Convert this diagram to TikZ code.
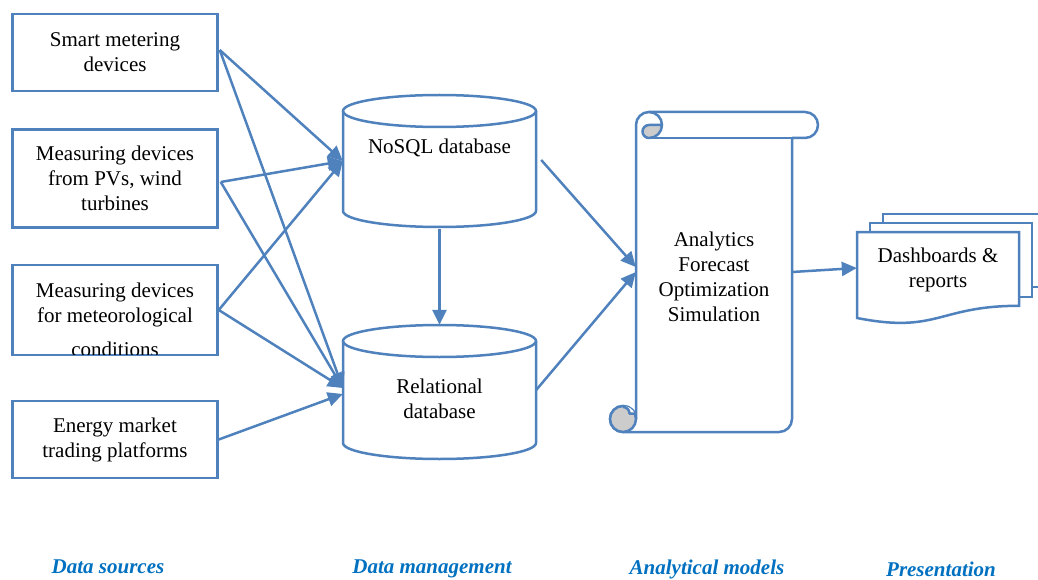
\documentclass[tikz,border=0pt]{standalone}
\usepackage{fontspec}
\setmainfont{Liberation Serif}
\usetikzlibrary{arrows.meta,calc}
\definecolor{bl}{HTML}{4F81BD}
\definecolor{lab}{RGB}{0,112,192}
\definecolor{curl}{RGB}{204,204,204}
\begin{document}
\begin{tikzpicture}[x=1pt,y=-1pt,
  ln/.style={draw=bl,line width=2.5pt},
  box/.style={ln,minimum width=205pt,inner sep=0pt,align=center,font=\fontsize{21}{25}\selectfont},
  txt/.style={align=center,inner sep=0pt,font=\fontsize{21}{25}\selectfont},
  arr/.style={draw=bl,line width=2.5pt,-{Triangle[length=15pt,width=14pt]}},
  lbl/.style={text=lab,font=\fontsize{21}{25}\selectfont\bfseries\itshape,inner sep=0pt},
  area/.style={inner sep=0pt}]
\useasboundingbox (0,0) rectangle (1038,580);

% data sources
\node[box,minimum height=77pt] (b1) at (115,52.5) {Smart metering\\devices};
\node[box,minimum height=98pt] (b2) at (115,178.5) {Measuring devices\\from PVs, wind\\turbines};
\node[box,minimum height=90pt] (b3) at (115,310) {};
\begin{scope}
  \clip ($(b3.south west)+(1.3,-1.3)$) rectangle ($(b3.north east)+(-1.3,1.3)$);
  \node[txt,anchor=north] (b3t) at (115,283) {Measuring devices\\for meteorological\\[8.5pt]conditions};
\end{scope}
\node[box,minimum height=77pt] (b4) at (115,439.5) {Energy market\\trading platforms};

% databases
\node[area,minimum width=193pt,minimum height=132pt] (nosql) at (439.5,161) {};
\draw[ln,fill=white] (343,111) -- (343,211) arc[start angle=180,end angle=0,x radius=96.5,y radius=16] -- (536,111);
\draw[ln] (439.5,111) ellipse[x radius=96.5,y radius=16];
\node[txt] (nosqlt) at (439.5,148) {NoSQL database};

\node[area,minimum width=193pt,minimum height=134pt] (rel) at (439.5,392) {};
\draw[ln,fill=white] (343,341) -- (343,443) arc[start angle=180,end angle=0,x radius=96.5,y radius=16] -- (536,341);
\draw[ln] (439.5,341) ellipse[x radius=96.5,y radius=16];
\node[txt] (relt) at (439.5,399) {Relational\\database};

% scroll
\node[area,minimum width=156pt,minimum height=320pt] (scroll) at (714,272) {};
\draw[ln,fill=white,line join=round] (636,125) arc[start angle=180,end angle=270,radius=13] -- (805,112)
  arc[start angle=270,end angle=450,radius=13] -- (792,138) -- (792,419)
  arc[start angle=0,end angle=90,radius=13] -- (623,432)
  arc[start angle=90,end angle=360,radius=13] -- cycle;
\draw[ln] (649,138) -- (792,138);
\draw[ln] (649,112) arc[start angle=270,end angle=360,radius=13];
\draw[ln,fill=curl,line join=round] (662,125) arc[start angle=0,end angle=90,radius=13]
  arc[start angle=90,end angle=270,radius=6.5] -- cycle;
\draw[ln,fill=curl] (623,419) circle[radius=13];
\fill[white] (623,406) arc[start angle=270,end angle=335,radius=13] -- (629.5,413.5)
  arc[start angle=0,end angle=-90,radius=6.5] -- cycle;
\draw[ln,line join=round] (636,413.5) -- (629.5,413.5) arc[start angle=0,end angle=-90,radius=6.5];
\node[txt] (scrollt) at (714,277) {Analytics\\Forecast\\Optimization\\Simulation};

% documents
\begin{scope}
  \clip (0,0) rectangle (1038,580);
  \draw[ln] (883,223) -- (883,214) -- (1050,214);
  \draw[ln] (1032,287) -- (1050,287);
\end{scope}
\draw[ln] (870,232) -- (870,223) -- (1032,223) -- (1032,297) -- (1019,297);
\node[area,minimum width=162pt,minimum height=86pt] (doc) at (938,275) {};
\draw[ln,fill=white] (857,232) -- (1019,232) -- (1019,305.8) .. controls (938,305.8) and (938,333.9) .. (857,318) -- cycle;
\node[txt] (doct) at (938,270) {Dashboards \&\\reports};

% connectors
\draw[arr] ($(b1.east)+(1,-2.5)$) -- (nosql.west);
\draw[arr] ($(b1.east)+(1,-2.5)$) -- ($(rel.west)+(0,-4)$);
\draw[arr] ($(b2.east)+(2,3.5)$) -- (nosql.west);
\draw[arr] ($(b2.east)+(2,3.5)$) -- ($(rel.west)+(0,-4)$);
\draw[arr] (b3.east) -- (nosql.west);
\draw[arr] (b3.east) -- ($(rel.west)+(0,-4)$);
\draw[arr] (b4.east) -- ($(rel.west)+(0,2)$);
\draw[arr] ($(nosql.south)+(0,2)$) -- (rel.north);
\draw[arr] ($(nosql.east)+(5,-1)$) -- ($(scroll.west)+(0,-5)$);
\draw[arr] ($(rel.east)+(0,-2)$) -- (scroll.west);
\draw[arr] (scroll.east) -- ($(doc.west)+(0,-7)$);

% layer labels
\node[lbl] (l1) at (108,567) {Data sources};
\node[lbl] (l2) at (432,569) {Data management};
\node[lbl] (l3) at (707,569.5) {Analytical models};
\node[lbl] (l4) at (941,569.5) {Presentation};
\end{tikzpicture}
\end{document}
